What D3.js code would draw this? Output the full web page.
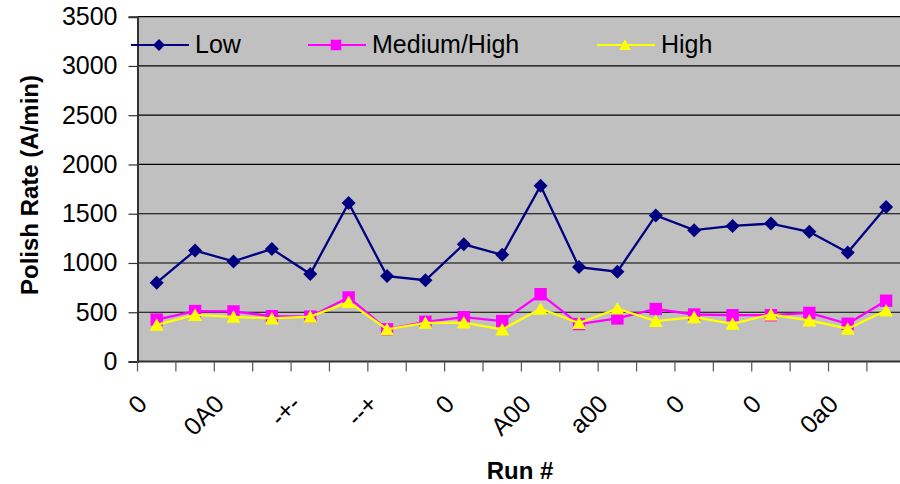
<!DOCTYPE html>
<html>
<head>
<meta charset="utf-8">
<script src="https://cdn.jsdelivr.net/npm/d3@7/dist/d3.min.js"></script>
<style>
  html, body { margin: 0; padding: 0; background: #fff; }
  svg { display: block; font-family: "Liberation Sans", Arial, sans-serif; }
</style>
</head>
<body>
<svg id="chart" width="900" height="484"></svg>
<script>
// Run numbers (20 runs) and the labels shown on every other run
const runs = d3.range(1, 21);
const tickLabels = ["0", "0A0", "-+-", "--+", "0", "A00", "a00", "0", "0", "0a0"];

// Polish rate (A/min) for each slurry setting
const lowRate     = [800, 1126, 1016, 1143, 888, 1610, 867, 825, 1190, 1083, 1783, 958, 912, 1483, 1333, 1376, 1400, 1316, 1106, 1568];
const medHighRate = [425, 512, 508, 460, 455, 650, 327, 403, 450, 410, 683, 380, 437, 533, 477, 470, 470, 493, 383, 617];
const highRate    = [372, 473, 453, 437, 455, 603, 327, 393, 395, 325, 535, 390, 537, 410, 450, 383, 477, 417, 333, 517];

const yTicks = d3.range(0, 3501, 500);

const series = [
  { name: "Low",         values: lowRate,     color: "#000080", marker: "diamond" },
  { name: "Medium/High", values: medHighRate, color: "#FF00FF", marker: "square" },
  { name: "High",        values: highRate,    color: "#FFFF00", marker: "triangle" }
];

const svg = d3.select("#chart");
const plotLeft = 137.5, plotRight = 905.3, plotTop = 16.7, plotBottom = 361.5;

const x = d3.scaleBand().domain(runs).range([plotLeft, plotRight]);
const y = d3.scaleLinear().domain([0, 3500]).range([plotBottom, plotTop]);
const cx = r => x(r) + x.bandwidth() / 2;

// plot background
svg.append("rect")
  .attr("x", plotLeft).attr("y", plotTop)
  .attr("width", plotRight - plotLeft).attr("height", plotBottom - plotTop)
  .attr("fill", "#C0C0C0");

// horizontal gridlines
svg.append("g")
  .selectAll("line")
  .data(yTicks.filter(v => v > 0))
  .join("line")
  .attr("x1", plotLeft).attr("x2", 900)
  .attr("y1", d => y(d)).attr("y2", d => y(d))
  .attr("stroke", "#000").attr("stroke-width", 1.2);

// y axis
const yAxis = svg.append("g")
  .attr("transform", `translate(${plotLeft},0)`)
  .call(d3.axisLeft(y).tickValues(yTicks).tickSize(9).tickPadding(11).tickFormat(d3.format("d")));
yAxis.select(".domain").attr("stroke", "#333").attr("stroke-width", 2);
yAxis.selectAll(".tick line").attr("stroke", "#333").attr("stroke-width", 1.2);
yAxis.selectAll(".tick text")
  .attr("font-size", 25).attr("fill", "#000")
  .attr("font-family", "Liberation Sans, Arial, sans-serif");

// x axis: ticks at band boundaries
const xAxis = svg.append("g")
  .attr("transform", `translate(0,${plotBottom})`);
xAxis.append("line")
  .attr("x1", plotLeft).attr("x2", 900)
  .attr("stroke", "#333").attr("stroke-width", 2);
xAxis.selectAll("line.tk")
  .data(runs)
  .join("line")
  .attr("class", "tk")
  .attr("x1", d => x(d)).attr("x2", d => x(d))
  .attr("y1", 0).attr("y2", 10)
  .attr("stroke", "#555").attr("stroke-width", 1.2);

// rotated labels on every other run
xAxis.selectAll("text.lbl")
  .data(tickLabels)
  .join("text")
  .attr("class", "lbl")
  .attr("transform", (d, i) => `translate(${cx(runs[i * 2]) - 8},${44}) rotate(-45)`)
  .attr("text-anchor", "end")
  .attr("font-size", 25)
  .attr("fill", "#000")
  .text(d => d);

// axis titles
svg.append("text")
  .attr("transform", `translate(38,185) rotate(-90)`)
  .attr("text-anchor", "middle")
  .attr("font-size", 24).attr("font-weight", "bold")
  .text("Polish Rate (A/min)");

svg.append("text")
  .attr("x", 520).attr("y", 479)
  .attr("text-anchor", "middle")
  .attr("font-size", 24).attr("font-weight", "bold")
  .text("Run #");

// marker shapes, centred on the point
const markerPath = {
  diamond: "M0,-7L7,0L0,7L-7,0Z",
  square: "M-6.2,-6.2H6.2V6.2H-6.2Z",
  triangle: "M0,-6.5L7,6L-7,6Z"
};

const line = d3.line()
  .x((d, i) => cx(runs[i]))
  .y(d => y(d));

// draw series (Low first, then Medium/High, then High on top)
series.forEach(s => {
  const g = svg.append("g");
  g.append("path")
    .attr("d", line(s.values))
    .attr("fill", "none")
    .attr("stroke", s.color)
    .attr("stroke-width", 2.3);
  g.selectAll("path.mk")
    .data(s.values)
    .join("path")
    .attr("class", "mk")
    .attr("d", markerPath[s.marker])
    .attr("transform", (d, i) => `translate(${cx(runs[i])},${y(d)})`)
    .attr("fill", s.color);
});

// legend
const legendX = [131, 308, 597];
const legend = svg.append("g");
series.forEach((s, i) => {
  const lx = legendX[i];
  const ly = 45;
  legend.append("line")
    .attr("x1", lx).attr("x2", lx + 58)
    .attr("y1", ly).attr("y2", ly)
    .attr("stroke", s.color).attr("stroke-width", 2);
  legend.append("path")
    .attr("d", markerPath[s.marker])
    .attr("transform", `translate(${lx + 28},${ly}) scale(0.85)`)
    .attr("fill", s.color);
  legend.append("text")
    .attr("x", lx + 64).attr("y", ly + 8)
    .attr("font-size", 25)
    .attr("fill", "#000")
    .text(s.name);
});
</script>
</body>
</html>
